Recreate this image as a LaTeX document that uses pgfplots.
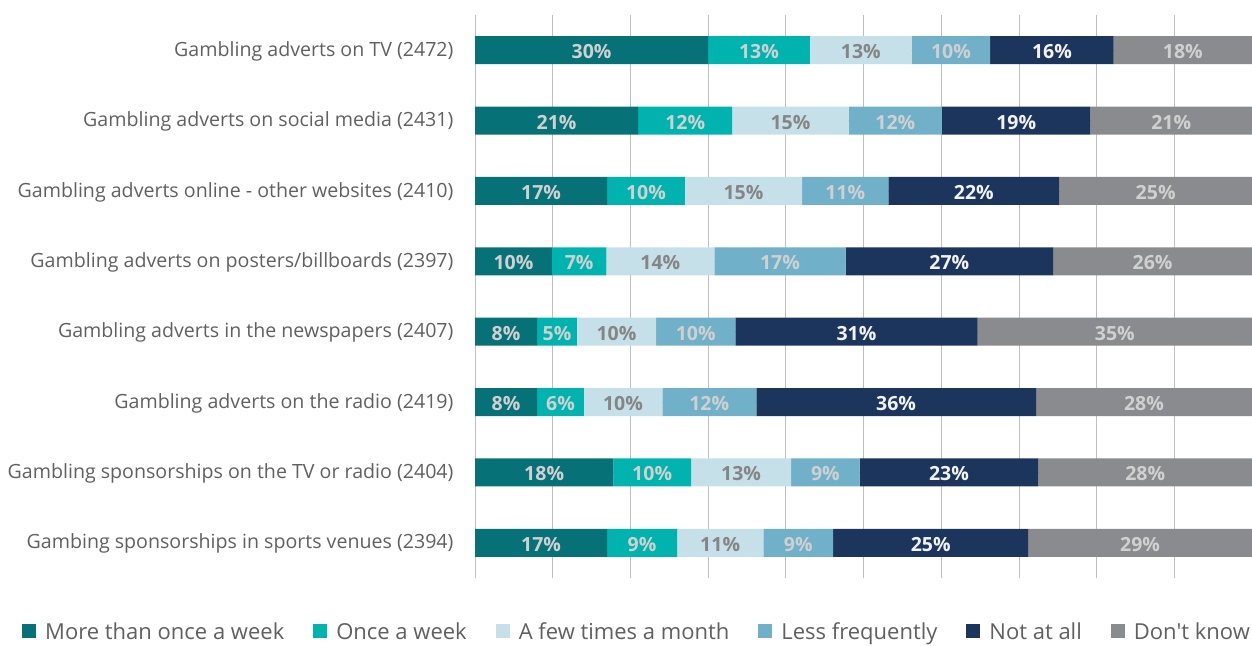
\documentclass[border=0pt]{standalone}
\usepackage{pgfplots}
\usepackage{pgfplotstable}
\pgfplotsset{compat=1.18}
\usepackage{fontspec}
\setmainfont{Open Sans}[Ligatures=TeXOff]
\definecolor{cA}{HTML}{077178}
\definecolor{cB}{HTML}{00B3AE}
\definecolor{cC}{HTML}{C6E0E9}
\definecolor{cD}{HTML}{70B1C9}
\definecolor{cE}{HTML}{1C355D}
\definecolor{cF}{HTML}{898B8E}
\definecolor{lblLight}{HTML}{D0D0D0}
\definecolor{lblDark}{HTML}{858585}
\definecolor{txt}{HTML}{606060}
\definecolor{grid}{HTML}{D9D9D9}
\pgfplotstableread{
y a al b bl c cl d dl e el f fl
0 30.0 30 13.1 13 13.1 13 10.1 10 15.9 16 17.8 18
1 21.0 21 12.1 12 15.0 15 12.0 12 19.1 19 20.8 21
2 17.0 17 10.0 10 15.1 15 11.1 11 22.0 22 24.8 25
3 9.9 10 7.0 7 13.9 14 16.9 17 26.7 27 25.6 26
4 8.0 8 5.1 5 10.2 10 10.2 10 31.2 31 35.3 35
5 8.0 8 6.0 6 10.1 10 12.1 12 36.0 36 27.8 28
6 17.8 18 10.0 10 12.9 13 8.8 9 23.0 23 27.5 28
7 17.0 17 9.0 9 11.1 11 9.0 9 25.1 25 28.8 29
}\data
\begin{document}
\begin{tikzpicture}
\useasboundingbox (0,0) rectangle (1252pt,645pt);
\begin{axis}[
  at={(475pt,67pt)}, anchor=south west,
  scale only axis, width=777pt, height=563pt,
  xbar stacked, bar width=28pt,
  xmin=0, xmax=100, ymin=-0.5, ymax=7.5,
  y dir=reverse,
  xtick={0,10,...,100}, xticklabels={},
  xmajorgrids, grid style={grid, line width=0.8pt},
  major tick length=0,
  axis line style={draw=none},
  ytick={0,...,7},
  yticklabels={Gambling adverts on TV (2472),Gambling adverts on social media (2431),Gambling adverts online - other websites (2410),Gambling adverts on posters/billboards (2397),Gambling adverts in the newspapers (2407),Gambling adverts on the radio (2419),Gambling sponsorships on the TV or radio (2404),Gambing sponsorships in sports venues (2394)},
  yticklabel style={font=\fontsize{19.6}{22}\selectfont, text=txt, xshift=-18pt, yshift=-1pt},
  /pgf/number format/assume math mode=true,
  nodes near coords={\pgfmathprintnumber{\pgfplotspointmeta}\%},
  point meta=explicit,
  every node near coord/.append style={font=\bfseries\fontsize{19.5}{22}\selectfont, text=lblLight, yshift=-1.5pt},
  legend columns=6,
  legend style={at={(-0.583,-0.096)}, anchor=west, draw=none, inner sep=0pt,
    font=\fontsize{22}{24}\selectfont, text=txt,
    /tikz/every odd column/.append style={column sep=7pt},
    /tikz/every even column/.append style={column sep=27pt}},
  legend image code/.code={\fill[#1] (0pt,-6pt) rectangle (14pt,8pt);},
]
\addplot[fill=cA, draw=none] table[x=a, y=y, meta=al] {\data};
\addplot[fill=cB, draw=none] table[x=b, y=y, meta=bl] {\data};
\addplot[fill=cC, draw=none, every node near coord/.append style={text=lblDark}] table[x=c, y=y, meta=cl] {\data};
\addplot[fill=cD, draw=none] table[x=d, y=y, meta=dl] {\data};
\addplot[fill=cE, draw=none, every node near coord/.append style={text=white!90!gray}] table[x=e, y=y, meta=el] {\data};
\addplot[fill=cF, draw=none] table[x=f, y=y, meta=fl] {\data};
\legend{More than once a week, Once a week, A few times a month, Less frequently, Not at all, Don't know}
\end{axis}
\end{tikzpicture}
\end{document}
